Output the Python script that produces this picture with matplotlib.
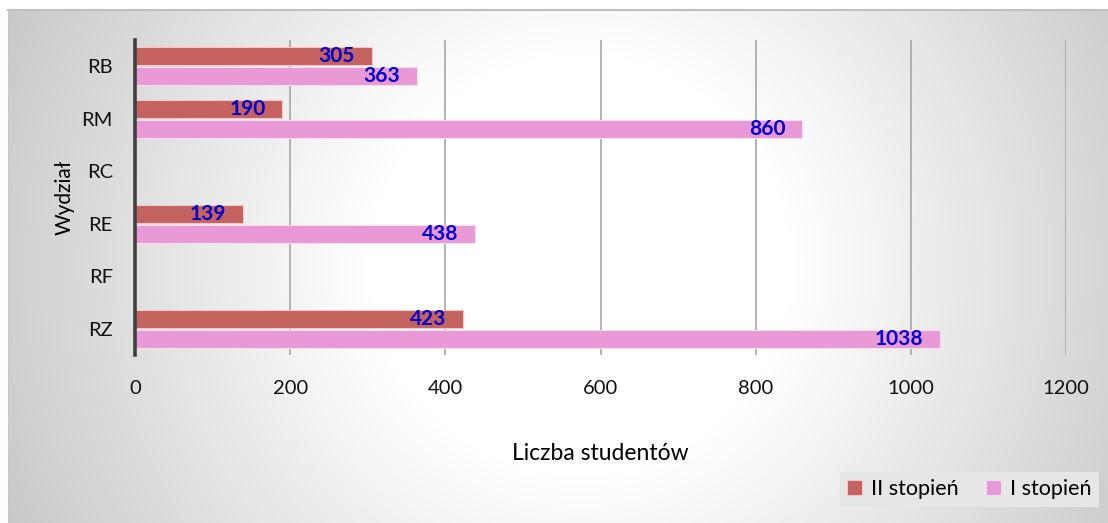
import matplotlib.pyplot as plt
import numpy as np

plt.rcParams['font.family'] = ['Lato', 'DejaVu Sans']

categories = ['RB', 'RM', 'RC', 'RE', 'RF', 'RZ']
ii_stopien = [305, 190, 0, 139, 0, 423]
i_stopien = [363, 860, 0, 438, 0, 1038]
series_names = ['II stopień', 'I stopień']
colors = ['#C4625F', '#E899D6']

W, H = 1108, 523
fig = plt.figure(figsize=(W / 100, H / 100), dpi=100)

# radial grey background of the chart area
bg = fig.add_axes([8 / W, 0, 1 - 8 / W, 1 - 10 / H], zorder=-2)
yy, xx = np.mgrid[10:H, 8:W]
r = np.hypot(xx - 580, yy - 265)
val = 255 - 0.13 * np.clip(r - 210, 0, None)
val = np.clip(val, 190, 255) / 255
bg.imshow(np.dstack([val, val, val]), aspect='auto', extent=(0, 1, 0, 1))
bg.set_xticks([])
bg.set_yticks([])
for s in ['right', 'bottom']:
    bg.spines[s].set_visible(False)
bg.spines['top'].set_color('#c0c0c0')
bg.spines['left'].set_color('#c8c8c8')
bg.spines['top'].set_linewidth(1.5)

ax = fig.add_axes([135 / W, 1 - 355 / H, (1066 - 135) / W, 315 / H])
ax.patch.set_alpha(0)

y = np.arange(len(categories))
h = 0.35
b1 = ax.barh(y - 0.19, ii_stopien, height=h, color=colors[0], edgecolor='#f0c8c8',
             linewidth=0.8, label=series_names[0], zorder=3)
b2 = ax.barh(y + 0.19, i_stopien, height=h, color=colors[1], edgecolor='#f8dcf0',
             linewidth=0.8, label=series_names[1], zorder=3)

for bars, vals in [(b1, ii_stopien), (b2, i_stopien)]:
    for bar, v in zip(bars, vals):
        if v == 0:
            continue
        ax.annotate(str(v), (v, bar.get_y() + bar.get_height() / 2),
                    xytext=(-12, 0), textcoords='offset points', ha='right', va='center',
                    color='#0000CC', fontsize=15, fontweight='bold', zorder=4)

ax.set_xlim(0, 1200)
ax.set_ylim(5.5, -0.5)
ax.set_xticks(range(0, 1201, 200))
ax.set_yticks(y)
ax.set_yticklabels(categories)
ax.xaxis.grid(True, color='#a6a6a6', linewidth=1.2, zorder=0)
ax.tick_params(axis='both', length=0, labelsize=14.5, colors='#111111')
ax.tick_params(axis='x', pad=18)
ax.tick_params(axis='y', pad=16)
for s in ['top', 'right', 'bottom']:
    ax.spines[s].set_visible(False)
ax.spines['left'].set_color('#404040')
ax.spines['left'].set_linewidth(2.6)
ax.spines['left'].set_zorder(5)

ax.set_xlabel('Liczba studentów', fontsize=16.5)
ax.xaxis.set_label_coords(0.5, -0.28)
ax.set_ylabel('Wydział', fontsize=15)
ax.yaxis.set_label_coords(-0.065, 0.5)

leg = fig.legend(handles=[b1, b2], loc='lower right', bbox_to_anchor=(0.992, 0.031),
                 ncol=2, fontsize=15.5, frameon=True, fancybox=False, facecolor='#e6e6e6',
                 edgecolor='none', framealpha=1, handlelength=0.7, handleheight=0.7,
                 handletextpad=0.4, columnspacing=1.3, borderaxespad=0, borderpad=0.35)

fig.savefig('out.png', dpi=100)
